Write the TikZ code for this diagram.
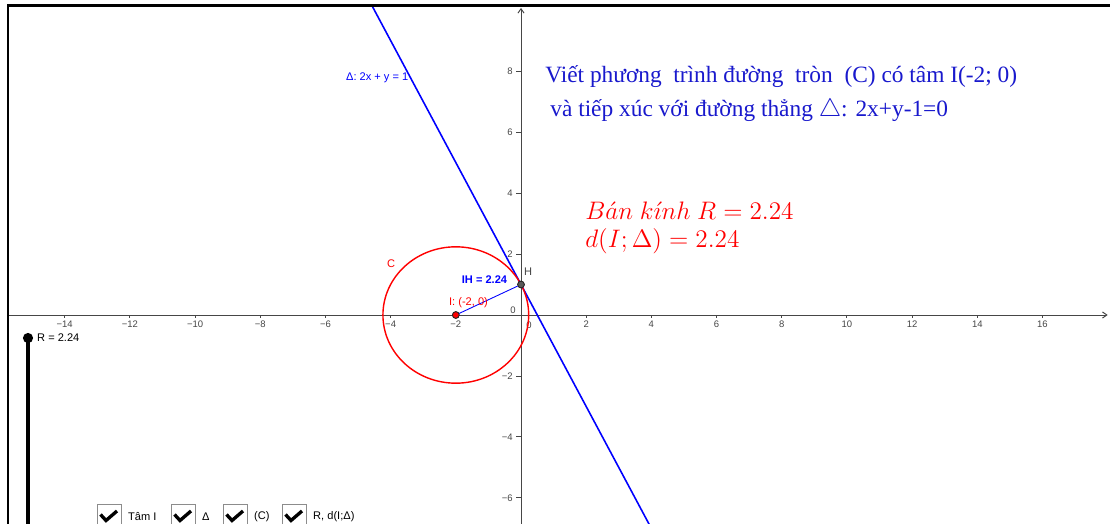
\documentclass[tikz,border=0pt]{standalone}
\usepackage{fontspec}
\setmainfont{Liberation Serif}
\setsansfont{Liberation Sans}
\usetikzlibrary{arrows.meta, positioning}
\definecolor{ggblue}{RGB}{0,0,255}
\definecolor{txtblue}{RGB}{25,25,205}
\definecolor{ggred}{RGB}{255,0,0}
\definecolor{axisgray}{RGB}{70,70,70}
\definecolor{boxgray}{RGB}{140,140,140}

\begin{document}
\begin{tikzpicture}[
        x=0.02cm, y=-0.02cm,
        axis/.style={draw=axisgray, line width=0.55pt},
        tick/.style={font=\sffamily\fontsize{5.4}{6.5}\selectfont, text=axisgray, inner sep=1pt},
        lbl/.style={font=\sffamily\fontsize{6.3}{7.5}\selectfont, inner sep=0.5pt},
        pt/.style={circle, draw=black!85, line width=0.45pt, minimum size=3.8pt, inner sep=0pt},
        deltaline/.style={draw=ggblue, line width=0.9pt},
        circ/.style={draw=ggred, line width=0.8pt},
        maintxt/.style={font=\fontsize{13.3}{16}\selectfont, text=txtblue, inner sep=0pt},
        chkbox/.style={draw=boxgray, line width=0.6pt, fill=white, minimum size=13.7pt, inner sep=0pt},
        chk/.style={line width=1.9pt, line join=miter}
    ]
%
    \useasboundingbox (0,0) rectangle (1110,524);
    \fill[white] (0,0) rectangle (1110,524);
%
    % Graph
    \begin{scope}[shift={(521,315)}, x=0.652cm, y=0.61cm]
        \clip (-15.75,-6.9) rectangle (18.1,10.16);
        \draw[axis, -{Straight Barb[length=2.5pt, width=3.5pt]}] (-15.75,0) -- (18.0,0);
        \draw[axis, -{Straight Barb[length=2.5pt, width=3.5pt]}] (0,-6.9) -- (0,10.07);
        \foreach \x/\t in {-14/−14,-12/−12,-10/−10,-8/−8,-6/−6,-4/−4,-2/−2,2/2,4/4,6/6,8/8,10/10,12/12,14/14,16/16}
            \draw[axis] (\x,0) -- (\x,-0.1) node[tick, below=0.5pt] {\t};
        \foreach \y/\t in {-6/−6,-4/−4,-2/−2,2/2,4/4,6/6,8/8}
            \draw[axis] (0,\y) -- (-0.16,\y) node[tick, left=0.5pt] {\t};
        \node[tick] (zeroA) at (-0.245,0.164) {0};
        \node[tick] (zeroB) at (0.245,-0.33) {0};
%
        % Line, circle, radius
        \coordinate (A) at (-4.7,10.4);
        \coordinate (B) at (4.0,-7.0);
        \coordinate (Ic) at (-2,0);
        \draw[deltaline] (A) -- (B);
        \draw[circ] (Ic) circle[radius=2.236];
        \node[pt, fill=ggred] (I) at (-2,0) {};
        \node[pt, fill=black!65] (H) at (0,1) {};
        \draw[draw=ggblue, line width=0.5pt] (I) -- (H);
        \node[pt, fill=ggred] at (I) {};
        \node[pt, fill=black!65] at (H) {};
%
        % Labels
        \node[lbl, text=ggblue, anchor=east] (dlabel) at (-3.42,7.77) {Δ: 2x + y = 1};
        \node[lbl, text=ggred] (clabel) at (-3.988,1.672) {C};
        \node[lbl, text=ggblue, font=\sffamily\bfseries\fontsize{6.3}{7.5}\selectfont] (ihlabel) at (-1.12,1.148) {IH = 2.24};
        \node[lbl, text=axisgray] (hlabel) at (0.215,1.41) {H};
        \node[lbl, text=ggred] (ilabel) at (-1.61,0.393) {I: (-2, 0)};
    \end{scope}
%
    % Frame
    \draw[line width=1.6pt] (8,530) |- (1115,5.3);
%
    % Texts
    \node[maintxt, anchor=west] (title1) at (545,77) {Viết phương~ trình đường~ tròn~ (C) có tâm I(-2; 0)};
    \node[maintxt, anchor=west] (title2) at (550,110) {và tiếp xúc với đường thẳng $\triangle$: 2x+y-1=0};
    \node[text=ggred, anchor=west, inner sep=0pt, font=\fontsize{15.1}{17}\selectfont] (radius1) at (585,211)
        {$B\acute{a}n\ k\acute{\imath}nh\ R = 2.24$};
    \node[text=ggred, anchor=west, inner sep=0pt, font=\fontsize{15.1}{17}\selectfont] (radius2) at (585,241)
        {$d(I;\Delta) = 2.24$};
%
    % Slider
    \draw[line width=2.8pt] (28,338) -- (28,530);
    \node[circle, fill=black, minimum size=5.8pt, inner sep=0pt] (knob) at (28,338) {};
    \node[lbl, anchor=west] (rlabel) at (36,338) {R = 2.24};
%
    % Checkboxes
    \foreach \bx/\txt [count=\i] in {97/Tâm I, 171/Δ, 223/(C), 282/{R, d(I;Δ)}} {
        \node[chkbox, anchor=north west] (box\i) at (\bx,504) {};
        \draw[chk] (\bx+3.5,514.5) -- (\bx+9,520.5) -- (\bx+20,511);
        \node[lbl, anchor=west] (cb\i) at (\bx+30,517) {\txt};
    }
%
\end{tikzpicture}
\end{document}
